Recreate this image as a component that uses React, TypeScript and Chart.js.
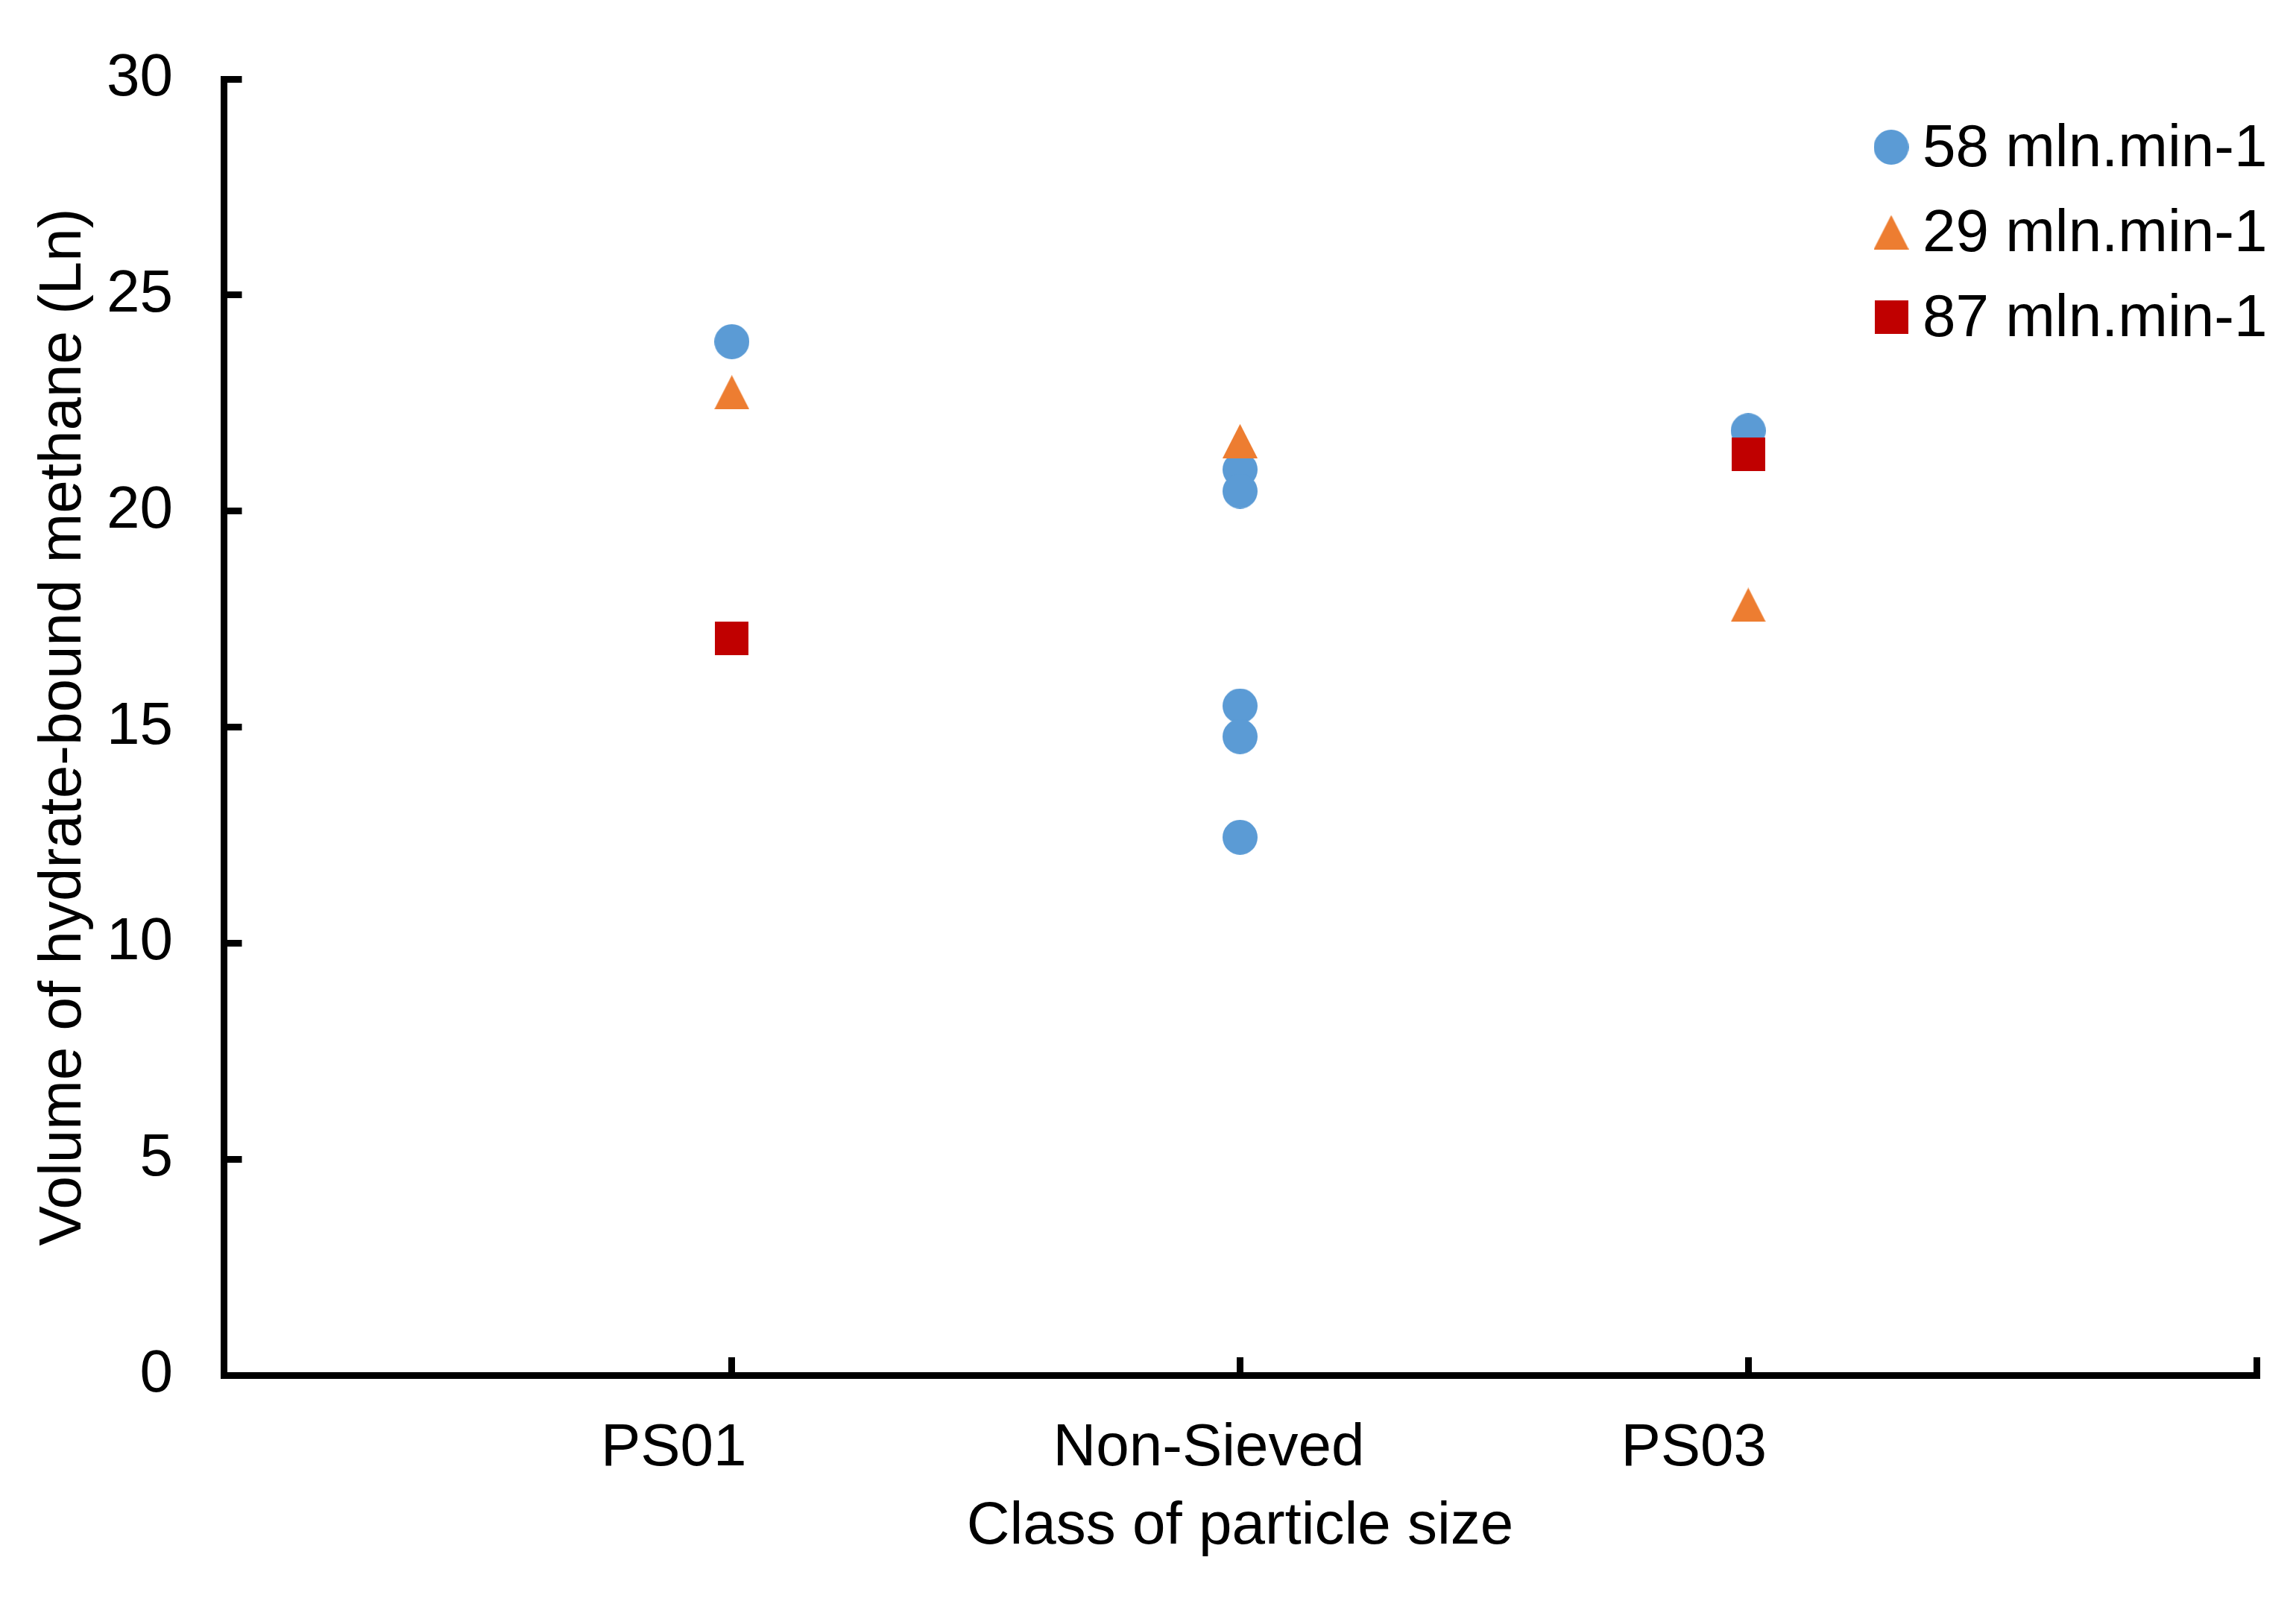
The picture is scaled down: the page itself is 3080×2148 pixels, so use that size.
import React, { useEffect, useRef } from 'react';
import { Chart, registerables } from 'chart.js';

Chart.register(...registerables);

// ---- data ----
const categories = ['PS01', 'Non-Sieved', 'PS03'];
const seriesNames = ['58 mln.min-1', '29 mln.min-1', '87 mln.min-1'];
const yTickValues = [0, 5, 10, 15, 20, 25, 30];

// category index (1 = PS01, 2 = Non-Sieved, 3 = PS03) and value per point
const flow58Category = [1, 2, 2, 2, 2, 2, 3];
const flow58Values = [23.92, 20.96, 20.46, 15.49, 14.78, 12.45, 21.86];
const flow29Category = [1, 2, 3];
const flow29Values = [22.75, 21.62, 17.83];
const flow87Category = [1, 3];
const flow87Values = [17.06, 21.32];

const xAxisTitle = 'Class of particle size';
const yAxisTitle = 'Volume of hydrate-bound methane (Ln)';

// ---- styles ----
const FONT_FAMILY = '"Liberation Sans", Arial, sans-serif';
const FONT_SIZE = 80;
const COLORS = ['#5B9BD5', '#ED7D31', '#C00000'];
const LINE_W = 9;

function makeMarker(shape: string, color: string, w: number, h: number) {
  const c = document.createElement('canvas');
  c.width = w;
  c.height = h;
  const g = c.getContext('2d')!;
  g.fillStyle = color;
  g.beginPath();
  if (shape === 'circle') {
    g.arc(w / 2, h / 2, w / 2, 0, Math.PI * 2);
  } else if (shape === 'triangle') {
    g.moveTo(w / 2, 0);
    g.lineTo(w, h);
    g.lineTo(0, h);
    g.closePath();
  } else {
    g.rect(0, 0, w, h);
  }
  g.fill();
  return c;
}

const innerTicksPlugin = {
  id: 'innerTicks',
  afterDraw(chart: any) {
    const { ctx, chartArea } = chart;
    const xs = chart.scales.x;
    const ys = chart.scales.y;
    ctx.save();
    ctx.strokeStyle = '#000';
    ctx.lineWidth = LINE_W;
    ctx.lineCap = 'butt';
    ys.ticks.forEach((t: any) => {
      const y = Math.round(ys.getPixelForValue(t.value) - 0.5) + 0.5;
      ctx.beginPath();
      ctx.moveTo(chartArea.left, y);
      ctx.lineTo(chartArea.left + 24.5, y);
      ctx.stroke();
    });
    xs.ticks.forEach((t: any) => {
      const x = Math.round(xs.getPixelForValue(t.value) - 0.5) + 0.5;
      ctx.beginPath();
      ctx.moveTo(x, chartArea.bottom);
      ctx.lineTo(x, chartArea.bottom - 24);
      ctx.stroke();
    });
    ctx.restore();
  },
};

const categoryLabelsPlugin = {
  id: 'categoryLabels',
  afterDraw(chart: any) {
    const { ctx } = chart;
    const xs = chart.scales.x;
    const shifts = [-78, -42, -73];
    ctx.save();
    ctx.font = `${FONT_SIZE}px ${FONT_FAMILY}`;
    ctx.fillStyle = '#000';
    ctx.textAlign = 'center';
    ctx.textBaseline = 'middle';
    categories.forEach((lab, i) => {
      ctx.fillText(lab, xs.getPixelForValue(i + 1) + shifts[i], xs.top + 99);
    });
    ctx.restore();
  },
};

function makeLegendPlugin(markers: HTMLCanvasElement[]) {
  return {
    id: 'seriesLegend',
    afterDraw(chart: any) {
      const { ctx, chartArea } = chart;
      ctx.save();
      ctx.font = `${FONT_SIZE}px ${FONT_FAMILY}`;
      ctx.fillStyle = '#000';
      ctx.textAlign = 'left';
      ctx.textBaseline = 'middle';
      seriesNames.forEach((name, i) => {
        const cx = chartArea.right - 490;
        const cy = chartArea.top + 91.5 + i * 114;
        const m = markers[i];
        ctx.drawImage(m, cx - m.width / 2, cy - m.height / 2);
        ctx.fillText(name, cx + 42, cy + 3);
      });
      ctx.restore();
    },
  };
}

export default function App() {
  const canvasRef = useRef<HTMLCanvasElement | null>(null);

  useEffect(() => {
    const canvas = canvasRef.current;
    if (!canvas) return;
    const markers = [
      makeMarker('circle', COLORS[0], 47, 47),
      makeMarker('triangle', COLORS[1], 47, 46),
      makeMarker('rect', COLORS[2], 45, 45),
    ];
    const font = { family: FONT_FAMILY, size: FONT_SIZE };
    const tickFont = { family: FONT_FAMILY, size: FONT_SIZE, lineHeight: 0.8 };
    const toPoints = (cats: number[], vals: number[]) =>
      cats.map((c, i) => ({ x: c, y: vals[i] }));

    const chart = new Chart(canvas, {
      type: 'scatter',
      data: {
        datasets: [
          {
            label: seriesNames[0],
            data: toPoints(flow58Category, flow58Values),
            pointStyle: markers[0] as any,
            backgroundColor: COLORS[0],
            borderColor: COLORS[0],
            pointRadius: 24,
            order: 2,
          },
          {
            label: seriesNames[1],
            data: toPoints(flow29Category, flow29Values),
            pointStyle: markers[1] as any,
            backgroundColor: COLORS[1],
            borderColor: COLORS[1],
            pointRadius: 24,
            order: 1,
          },
          {
            label: seriesNames[2],
            data: toPoints(flow87Category, flow87Values),
            pointStyle: markers[2] as any,
            backgroundColor: COLORS[2],
            borderColor: COLORS[2],
            pointRadius: 24,
            order: 0,
          },
        ],
      },
      options: {
        animation: false,
        responsive: true,
        maintainAspectRatio: false,
        devicePixelRatio: 1,
        layout: { padding: { left: 0, right: 53, top: 106, bottom: 0 } },
        plugins: {
          legend: { display: false },
          tooltip: { enabled: false },
        },
        scales: {
          x: {
            type: 'linear',
            min: 0,
            max: categories.length + 1,
            afterFit: (s: any) => {
              s.height = 303;
            },
            grid: {
              display: true,
              drawOnChartArea: false,
              drawTicks: false,
              lineWidth: LINE_W,
              color: '#000',
            },
            border: { display: true, color: '#000', width: LINE_W },
            ticks: { display: false, stepSize: 1 },
            title: {
              display: true,
              text: xAxisTitle,
              font,
              color: '#000',
              padding: { top: 0, bottom: 51 },
            },
          },
          y: {
            type: 'linear',
            min: yTickValues[0],
            max: yTickValues[yTickValues.length - 1],
            afterFit: (s: any) => {
              s.width = 300;
            },
            afterBuildTicks: (s: any) => {
              s.ticks = yTickValues.map((v) => ({ value: v }));
            },
            grid: {
              display: true,
              drawOnChartArea: false,
              drawTicks: false,
              lineWidth: LINE_W,
              color: '#000',
            },
            border: { display: true, color: '#000', width: LINE_W },
            ticks: { font: tickFont, color: '#000', padding: 68 },
            title: {
              display: true,
              text: yAxisTitle,
              font,
              color: '#000',
              padding: { top: 38, bottom: 0 },
            },
          },
        },
      } as any,
      plugins: [innerTicksPlugin, categoryLabelsPlugin, makeLegendPlugin(markers)],
    });

    return () => {
      chart.destroy();
    };
  }, []);

  return (
    <div
      style={{
        position: 'fixed',
        left: 0,
        top: 0,
        width: 3080,
        height: 2148,
        background: '#fff',
      }}
    >
      <canvas ref={canvasRef} />
    </div>
  );
}
